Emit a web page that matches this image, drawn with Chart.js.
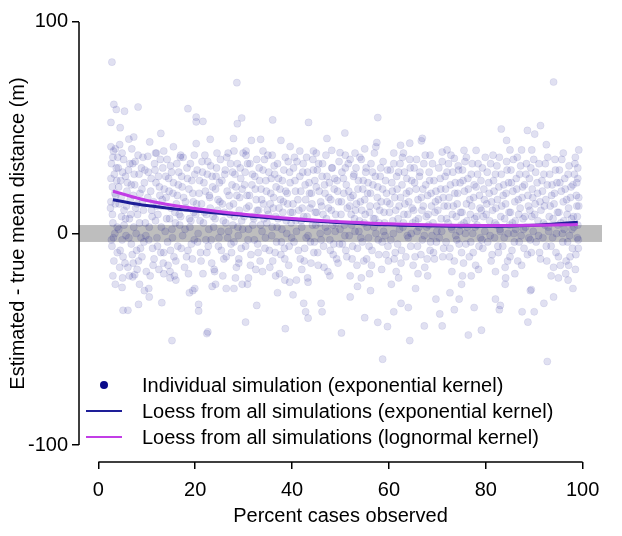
<!DOCTYPE html>
<html>
<head>
<meta charset="utf-8">
<script src="https://cdn.jsdelivr.net/npm/chart.js@4.4.1/dist/chart.umd.min.js"></script>
<style>
  body { margin: 0; background: #fff; }
  canvas { display: block; }
</style>
</head>
<body>
<canvas id="myChart" width="622" height="536"></canvas>
<script>
// individual simulations, grouped by percent observed (x, y)
const pts00 = [[2.8,81],[3.2,61],[3.7,58.6],[5.4,57.8],[8.2,59.8],[2.6,52.5],[4.5,50],[6.3,44.6],[7.3,45.6],[2.6,41],[3.5,40],[4.4,42],[3.1,39],[10.2,36.5],[10.6,43.3],
  [2.7,33],[3.3,28],[2.9,22],[3.6,18],[2.5,12],[3.0,5],[3.4,0],[2.8,-6],[3.9,-9],[3.2,-13],[4.1,31],[4.6,25],[4.3,14],[4.8,8],[4.2,2],[4.9,-3],[5.2,35],[5.6,27],[5.9,20],[5.3,11],[5.7,-1],[5.1,-11],[6.2,30],[6.6,16],[6.4,7],[6.8,-5],[6.1,-16],[7.1,33],[7.5,23],[7.7,12],[7.3,3],[7.9,-8],[8.4,28],[8.6,19],[8.1,9],[8.8,-2],[8.3,-13],[9.2,36],[9.5,24],[9.1,15],[9.7,5],[9.4,-4],[9.9,-18],[2.6,15],[3.8,25],[4.0,36],[6.9,40],[8.9,31],[5.0,-21],[7.2,-14],
  [2.6,26],[2.9,9],[3.1,-2],[3.4,19],[3.7,31],[3.9,3],[4.2,22],[4.5,-8],[4.7,17],[5.0,29],[5.3,4],[5.5,-14],[5.8,13],[6.0,24],[6.3,-2],[6.5,33],[6.7,9],[7.0,-10],[7.2,18],[7.4,28],[7.8,0],[8.0,14],[8.2,37],[8.5,5],[8.7,-7],[9.0,21],[9.3,11],[9.6,30],[9.8,-1],[3.0,36],[4.4,-16],[6.4,-20],[8.0,-17],[2.7,-3],[5.6,7],[7.6,34],[9.0,-11],[3.5,14],[4.9,38],[6.8,23],
  [5.1,-36.3],[6.1,-36.3],[8.3,-33.5],[4.9,-25.5],[8.5,-24],[9.5,-27],[10.4,-26],[7.5,-19.5],[7.1,-20.5],[3.0,-20],[3.5,-24]];
const pts10 = [[12.9,47.3],[18.5,59],[17,37],[19.8,37],[15.5,41],[13.5,39],
  [10.3,29],[10.8,20],[11.0,11],[10.5,3],[11.2,-7],[11.6,33],[11.9,24],[11.4,15],[11.8,6],[12.1,-2],[12.4,27],[12.7,18],[12.3,9],[12.9,-9],[13.3,31],[13.6,21],[13.1,13],[13.8,1],[13.4,-14],[14.2,35],[14.5,26],[14.0,17],[14.7,7],[14.3,-4],[15.1,29],[15.4,19],[15.8,10],[15.2,2],[15.6,-11],[16.2,33],[16.5,23],[16.1,14],[16.8,4],[16.4,-6],[17.2,27],[17.6,17],[17.0,8],[17.4,-1],[17.8,-16],[18.3,31],[18.7,21],[18.1,12],[18.9,3],[18.5,-8],[19.3,25],[19.6,15],[19.1,6],[19.8,-3],[19.4,-12],[12.0,38],[16.9,36],[14.8,-18],[11.3,-15],
  [10.2,17],[10.4,-3],[10.9,26],[11.1,8],[11.5,-12],[11.7,30],[12.0,13],[12.2,-6],[12.6,22],[12.8,35],[13.0,3],[13.2,16],[13.5,-9],[13.9,27],[14.1,7],[14.4,-15],[14.6,20],[14.9,32],[15.0,12],[15.3,-2],[15.5,24],[15.9,5],[16.0,-13],[16.3,18],[16.6,29],[16.7,9],[17.1,-7],[17.3,22],[17.5,36],[17.9,2],[18.0,15],[18.2,-11],[18.4,26],[18.8,7],[19.0,33],[19.2,-5],[19.5,19],[19.7,10],[19.9,28],[10.7,-20],[12.5,-17],[16.0,-22],[18.6,-19],[11.8,38],[14.9,-8],
  [13.1,-32.7],[15.2,-50.6],[13.5,-19],[14.8,-21],[15.7,-20],[19.5,-27],[18.8,-28],[10.5,-30]];
const pts20 = [[20.2,55],[20.2,52.8],[21.6,53],[28.6,71.3],[28.7,51.9],[29.6,54.6],[27.9,44.9],[23.1,44.5],[20.2,42.5],[24.5,38],[28,39],[30.5,39],
  [20.4,30],[20.8,19],[20.1,9],[20.6,0],[21.1,-9],[21.4,34],[21.8,24],[21.3,14],[21.7,5],[22.2,-3],[22.5,28],[22.9,18],[22.3,9],[22.7,-6],[23.2,32],[23.6,22],[23.1,12],[23.8,3],[23.4,-14],[24.3,27],[24.7,16],[24.1,7],[24.9,-2],[25.2,35],[25.5,25],[25.1,15],[25.8,6],[25.4,-8],[26.2,30],[26.6,20],[26.0,10],[26.9,1],[26.4,-11],[27.3,33],[27.6,23],[27.1,13],[27.8,4],[27.4,-5],[28.2,28],[28.6,18],[28.1,8],[28.9,-1],[28.5,-16],[29.3,31],[29.7,21],[29.1,11],[29.8,2],[29.5,-7],[22.0,37],[26.8,38],[24.0,-18],[29.0,-12],
  [20.3,14],[20.5,-4],[20.9,25],[21.0,6],[21.2,-13],[21.5,29],[21.9,10],[22.1,20],[22.4,-9],[22.6,34],[22.8,2],[23.0,17],[23.3,-3],[23.5,27],[23.7,8],[23.9,-17],[24.2,21],[24.4,31],[24.6,11],[24.8,-6],[25.0,24],[25.3,1],[25.6,14],[25.9,-12],[26.1,28],[26.3,5],[26.5,36],[26.7,-2],[27.0,18],[27.2,9],[27.5,-9],[27.7,29],[27.9,14],[28.0,-4],[28.4,22],[28.7,33],[28.8,3],[29.0,-14],[29.2,17],[29.4,26],[29.6,6],[29.9,38],[21.6,-19],[25.7,-20],[28.3,-21],
  [20.7,-33.5],[20.7,-36.6],[19.9,-26],[22.4,-47.3],[22.6,-46.5],[23.5,-25],[24.2,-24],[26.4,-26],[28,-26]];
const pts30 = [[31.6,44],[33.5,44.5],[36,53.7],[37.7,44],[39.6,41.1],[34,39],
  [30.3,29],[30.7,18],[30.1,8],[30.9,-3],[31.3,33],[31.7,23],[31.1,13],[31.9,4],[31.5,-10],[32.3,27],[32.6,16],[32.1,7],[32.9,-5],[33.2,31],[33.6,21],[33.1,11],[33.8,1],[33.4,-13],[34.3,35],[34.6,25],[34.1,14],[34.8,5],[34.4,-7],[35.2,29],[35.6,19],[35.1,9],[35.8,-1],[35.4,-16],[36.3,32],[36.7,22],[36.1,12],[36.9,3],[36.5,-9],[37.2,26],[37.6,16],[37.1,7],[37.8,-4],[38.3,30],[38.7,20],[38.1,10],[38.9,0],[38.5,-12],[39.2,34],[39.6,24],[39.1,14],[39.8,5],[39.4,-6],[30.5,37],[35.9,37],[37.4,-19],[32.5,-17],
  [30.2,23],[30.4,-6],[30.6,12],[30.8,33],[31.0,2],[31.2,18],[31.4,-15],[31.8,28],[32.0,8],[32.2,-3],[32.4,21],[32.7,35],[32.8,11],[33.0,-9],[33.3,25],[33.5,4],[33.7,16],[33.9,-18],[34.0,30],[34.2,7],[34.5,-2],[34.7,20],[34.9,11],[35.0,37],[35.3,-8],[35.5,14],[35.7,26],[35.9,3],[36.0,-13],[36.2,17],[36.4,28],[36.6,8],[36.8,-4],[37.0,33],[37.3,12],[37.5,21],[37.7,-10],[37.9,2],[38.0,25],[38.2,15],[38.4,-7],[38.6,36],[38.8,6],[39.0,19],[39.3,-15],[39.5,29],[39.7,10],[39.9,-2],[31.0,-21],[36.6,-20],
  [29.7,-24],[30.8,-24],[30.4,-41.9],[32.7,-34],[38.6,-45],[37,-28],[38.5,-22],[39.5,-23]];
const pts40 = [[43.4,52.5],[47.2,44.9],[41.6,39],[44.4,39],[48.2,39.3],[49.9,38.2],
  [40.3,31],[40.7,20],[40.1,10],[40.9,1],[41.3,-8],[41.6,27],[41.2,16],[41.9,6],[42.3,33],[42.7,23],[42.1,12],[42.9,-2],[42.5,-13],[43.2,29],[43.6,19],[43.1,8],[43.8,-4],[44.3,35],[44.7,25],[44.1,14],[44.9,4],[44.5,-9],[45.2,30],[45.6,20],[45.1,10],[45.8,0],[45.4,-15],[46.3,33],[46.7,23],[46.1,13],[46.9,3],[46.5,-6],[47.2,27],[47.6,17],[47.1,7],[47.8,-3],[47.4,-18],[48.3,31],[48.7,21],[48.1,11],[48.9,1],[48.5,-10],[49.3,25],[49.6,15],[49.1,5],[49.8,-5],[40.5,36],[45.0,38],[42.0,-17],[49.5,-14],
  [40.2,14],[40.4,-4],[40.6,25],[40.8,6],[41.0,34],[41.4,11],[41.7,-12],[41.8,20],[42.0,3],[42.2,29],[42.4,8],[42.6,-7],[42.8,16],[43.0,36],[43.3,-1],[43.5,24],[43.7,12],[43.9,-14],[44.0,19],[44.2,4],[44.4,30],[44.6,-4],[44.8,10],[45.0,22],[45.3,-9],[45.5,33],[45.7,5],[45.9,15],[46.0,-3],[46.2,27],[46.4,9],[46.6,-16],[46.8,19],[47.0,37],[47.3,1],[47.5,12],[47.7,24],[47.9,-8],[48.0,16],[48.2,31],[48.4,4],[48.6,-5],[48.8,26],[49.0,9],[49.2,-12],[49.4,20],[49.7,34],[49.9,2],[43.2,-21],[47.8,-20],
  [40.2,-29],[42.4,-33],[43.3,-40],[42.8,-37],[43.3,-23],[46,-33],[46.2,-37],[40.9,-22]];
const pts50 = [[50.9,47.5],[57.7,54.8],[57.5,43],[57.3,41],[55,40],[53,38],
  [50.3,29],[50.7,19],[50.1,9],[50.9,-1],[51.3,-11],[51.6,33],[51.2,23],[51.9,13],[52.3,4],[52.7,27],[52.1,17],[52.9,7],[52.5,-6],[53.2,31],[53.6,21],[53.1,11],[53.8,1],[53.4,-15],[54.3,35],[54.7,25],[54.1,15],[54.9,5],[54.5,-4],[55.2,29],[55.6,19],[55.1,9],[55.8,-2],[55.4,-12],[56.3,33],[56.7,23],[56.1,13],[56.9,3],[56.5,-8],[57.2,27],[57.6,17],[57.1,7],[57.8,-3],[58.3,31],[58.7,21],[58.1,11],[58.9,1],[58.5,-17],[59.3,25],[59.6,15],[59.1,5],[59.8,-6],[59.4,-10],[51.0,37],[56.0,-19],[52.0,-20],
  [50.2,15],[50.4,-5],[50.6,26],[50.8,4],[51.0,31],[51.1,-8],[51.4,12],[51.7,20],[51.8,-1],[52.0,35],[52.2,9],[52.4,-12],[52.6,18],[52.8,28],[53.0,1],[53.3,14],[53.5,-7],[53.7,25],[53.9,6],[54.0,36],[54.2,-2],[54.4,11],[54.6,21],[54.8,-13],[55.0,16],[55.3,31],[55.5,3],[55.7,24],[55.9,-6],[56.0,10],[56.2,19],[56.4,-15],[56.6,29],[56.8,7],[57.0,38],[57.3,0],[57.5,13],[57.7,22],[57.9,-10],[58.0,5],[58.2,27],[58.4,15],[58.6,-4],[58.8,34],[59.0,10],[59.2,-1],[59.5,19],[59.7,30],[59.9,-13],[54.3,-21],
  [50.2,-47],[52,-30],[53.5,-25],[55,-39.8],[57.7,-42],[59.7,-44],[58.7,-59.4],[56.2,-27]];
const pts60 = [[62.4,41.7],[64.3,42.7],[66.9,45],[66.7,43.8],[61,38],[68.5,37],
  [60.3,30],[60.7,20],[60.1,10],[60.9,0],[61.3,-9],[61.6,27],[61.2,17],[61.9,7],[62.3,33],[62.7,23],[62.1,13],[62.9,3],[62.5,-14],[63.2,29],[63.6,19],[63.1,9],[63.8,-1],[64.3,35],[64.7,25],[64.1,15],[64.9,5],[64.5,-6],[65.2,31],[65.6,21],[65.1,11],[65.8,1],[65.4,-11],[66.3,27],[66.7,17],[66.1,7],[66.9,-3],[67.2,33],[67.6,23],[67.1,13],[67.8,3],[67.4,-16],[68.3,29],[68.7,19],[68.1,9],[68.9,-1],[68.5,-8],[69.3,25],[69.6,15],[69.1,5],[69.8,-4],[69.4,-12],[63.0,38],[66.0,-19],[61.5,-18],
  [60.2,14],[60.4,-3],[60.6,24],[60.8,6],[61.0,33],[61.1,-12],[61.4,11],[61.7,21],[61.8,-5],[62.0,29],[62.2,2],[62.4,17],[62.6,-8],[62.8,36],[63.0,5],[63.3,14],[63.5,-11],[63.7,26],[63.9,9],[64.0,-2],[64.2,20],[64.4,31],[64.6,0],[64.8,12],[65.0,-15],[65.3,24],[65.5,6],[65.7,35],[65.9,-6],[66.0,16],[66.2,3],[66.4,29],[66.6,-10],[66.8,11],[67.0,21],[67.3,-1],[67.5,37],[67.7,8],[67.9,-12],[68.0,18],[68.2,4],[68.4,25],[68.6,-4],[68.8,13],[69.0,33],[69.2,-9],[69.5,10],[69.7,20],[69.9,1],[62.0,-21],[68.0,-20],
  [61,-37],[62.5,-33],[64,-35],[64.3,-50.6],[67.3,-43.7],[69.7,-31],[60.5,-24],[65.5,-26]];
const pts70 = [[71,38.5],[72,39.5],[75.5,39.3],[78,39.3],[76,36],[73.5,35.5],
  [70.3,31],[70.7,21],[70.1,11],[70.9,1],[71.3,-7],[71.6,27],[71.2,17],[71.9,7],[72.3,33],[72.7,23],[72.1,13],[72.9,3],[72.5,-11],[73.2,29],[73.6,19],[73.1,9],[73.8,-1],[74.3,32],[74.7,24],[74.1,14],[74.9,4],[74.5,-5],[75.2,30],[75.6,20],[75.1,10],[75.8,0],[75.4,-14],[76.3,26],[76.7,16],[76.1,6],[76.9,-4],[77.2,33],[77.6,23],[77.1,13],[77.8,3],[77.4,-9],[78.3,28],[78.7,18],[78.1,8],[78.9,-2],[78.5,-17],[79.3,31],[79.6,21],[79.1,11],[79.8,1],[79.4,-7],[73.0,-18],[77.0,-20],
  [70.2,16],[70.4,-2],[70.6,26],[70.8,7],[71.0,34],[71.1,-11],[71.4,13],[71.7,21],[71.8,-4],[72.0,29],[72.2,5],[72.4,17],[72.6,-7],[72.8,37],[73.0,2],[73.3,13],[73.5,-13],[73.7,24],[73.9,8],[74.0,-3],[74.2,19],[74.4,30],[74.6,1],[74.8,10],[75.0,-9],[75.3,25],[75.5,5],[75.7,34],[75.9,-5],[76.0,14],[76.2,3],[76.4,21],[76.6,-11],[76.8,9],[77.0,28],[77.3,0],[77.5,17],[77.7,7],[77.9,-15],[78.0,22],[78.2,4],[78.4,33],[78.6,-6],[78.8,12],[79.0,25],[79.2,-3],[79.5,8],[79.7,16],[79.9,36],[75.2,-20],
  [70.5,-38],[71,-43.7],[72.6,-28],[73.5,-36],[74.5,-31],[76.4,-48],[79.1,-45.7],[77.6,-35],[75,-24]];
const pts80 = [[83.2,49.4],[84.3,44],[88.6,48.7],[85,39.5],[87.4,39.5],[89.5,39.5],[81.5,37],[86.5,36],
  [80.3,29],[80.7,19],[80.1,9],[80.9,-1],[81.3,-10],[81.6,25],[81.2,15],[81.9,5],[82.3,32],[82.7,22],[82.1,12],[82.9,2],[82.5,-6],[83.2,28],[83.6,18],[83.1,8],[83.8,-2],[84.3,34],[84.7,24],[84.1,14],[84.9,4],[84.5,-13],[85.2,30],[85.6,20],[85.1,10],[85.8,0],[85.4,-8],[86.3,26],[86.7,16],[86.1,6],[86.9,-4],[87.2,32],[87.6,22],[87.1,12],[87.8,2],[87.4,-15],[88.3,28],[88.7,18],[88.1,8],[88.9,-2],[89.3,31],[89.6,21],[89.1,11],[89.8,1],[89.4,-9],[82.0,-18],[86.0,-19],
  [80.2,14],[80.4,-4],[80.6,24],[80.8,6],[81.0,33],[81.1,-13],[81.4,11],[81.7,20],[81.8,-2],[82.0,28],[82.2,4],[82.4,16],[82.6,-9],[82.8,36],[83.0,1],[83.3,13],[83.5,-6],[83.7,23],[83.9,7],[84.0,-16],[84.2,19],[84.4,30],[84.6,0],[84.8,10],[85.0,-11],[85.3,24],[85.5,5],[85.7,35],[85.9,-4],[86.0,15],[86.2,2],[86.4,21],[86.6,-13],[86.8,9],[87.0,28],[87.3,-1],[87.5,17],[87.7,7],[87.9,-7],[88.0,23],[88.2,3],[88.4,33],[88.6,-10],[88.8,13],[89.0,26],[89.2,-3],[89.5,8],[89.7,17],[89.9,35],[84.1,-21],
  [82,-31],[83,-34],[82.8,-36],[88.7,-41.9],[87.5,-37],[89.2,-27],[89.4,-26.5],[84,-24]];
const pts90 = [[90.1,47],[91.3,51],[94,71.6],[99.2,39.5],[92.5,42],[96,38],
  [90.3,29],[90.7,19],[90.1,9],[90.9,-1],[91.3,-12],[91.6,25],[91.2,15],[91.9,5],[92.3,33],[92.7,23],[92.1,13],[92.9,3],[92.5,-6],[93.2,28],[93.6,18],[93.1,8],[93.8,-2],[94.3,35],[94.7,24],[94.1,14],[94.9,4],[94.5,-9],[95.2,30],[95.6,20],[95.1,10],[95.8,0],[95.4,-15],[96.3,26],[96.7,16],[96.1,6],[96.9,-4],[97.2,32],[97.6,22],[97.1,12],[97.8,2],[97.4,-11],[98.3,28],[98.7,18],[98.1,8],[98.9,-2],[98.5,-17],[99.0,31],[98.8,24],[99.2,13],[99.0,4],[99.1,-7],[96.5,-19],[93.5,-20],
  [90.2,14],[90.4,-4],[90.6,24],[90.8,6],[91.0,33],[91.1,-9],[91.4,11],[91.7,20],[91.8,-2],[92.0,28],[92.2,4],[92.4,16],[92.6,-13],[92.8,36],[93.0,1],[93.3,13],[93.5,-6],[93.7,23],[93.9,7],[94.0,-16],[94.2,19],[94.4,30],[94.6,0],[94.8,10],[95.0,-11],[95.3,24],[95.5,5],[95.7,35],[95.9,-4],[96.0,15],[96.2,2],[96.4,21],[96.6,-13],[96.8,9],[97.0,28],[97.3,-1],[97.5,17],[97.7,7],[97.9,-7],[98.0,23],[98.2,3],[98.4,33],[98.6,-10],[98.8,13],[99.0,26],[99.1,-3],[98.9,8],[99.2,17],[98.5,36],[95.0,-21],
  [90,-37],[92,-33],[94,-30],[92.7,-60.5],[98,-26],[97,-22],[97.1,-15]];

// loess curves
const loessX = [3, 10, 20, 30, 40, 50, 60, 70, 80, 90, 99];
const loessExp = [16, 13.2, 10.6, 8.5, 6.6, 5.1, 4.1, 3.5, 3.4, 3.9, 5.3];
const loessLogn = [20, 15.6, 11.8, 9.1, 7.1, 5.6, 4.6, 4.0, 3.8, 3.9, 4.3];

const xTicks = [0, 20, 40, 60, 80, 100];
const yTicks = [-100, 0, 100];
const bandLow = -4, bandHigh = 4;

const labels = [
  "Individual simulation (exponential kernel)",
  "Loess from all simulations (exponential kernel)",
  "Loess from all simulations (lognormal kernel)"
];

const FONT = "'Liberation Sans', Arial, sans-serif";
const dotColor = "#0a0a8a";
const expColor = "#1e1e98";
const lognColor = "#c23de6";

const simPoints = [].concat(pts00, pts10, pts20, pts30, pts40, pts50, pts60, pts70, pts80, pts90)
  .map(p => ({ x: p[0], y: p[1] }));

function toXY(xs, ys) {
  return xs.map((x, i) => ({ x: x, y: ys[i] }));
}

// grey band around zero, drawn under the points
const bandPlugin = {
  id: "band",
  beforeDatasetsDraw(chart) {
    const { ctx, chartArea, scales } = chart;
    const top = scales.y.getPixelForValue(bandHigh);
    const bottom = scales.y.getPixelForValue(bandLow);
    ctx.save();
    ctx.fillStyle = "#bebebe";
    ctx.fillRect(chartArea.left, top, chartArea.right - chartArea.left, bottom - top);
    ctx.restore();
  }
};

// R style axis lines (only between first and last tick) and legend
const axesLegendPlugin = {
  id: "axesLegend",
  afterDraw(chart) {
    const { ctx, chartArea, scales } = chart;
    ctx.save();
    ctx.strokeStyle = "#000";
    ctx.lineWidth = 1.5;
    ctx.beginPath();
    ctx.moveTo(scales.x.getPixelForValue(xTicks[0]), chartArea.bottom);
    ctx.lineTo(scales.x.getPixelForValue(xTicks[xTicks.length - 1]), chartArea.bottom);
    ctx.moveTo(chartArea.left, scales.y.getPixelForValue(yTicks[0]));
    ctx.lineTo(chartArea.left, scales.y.getPixelForValue(yTicks[yTicks.length - 1]));
    ctx.stroke();

    const ds = chart.data.datasets;
    const x0 = chartArea.left + 7;
    const rowY = [385, 411, 437];
    ctx.font = "20px " + FONT;
    ctx.textBaseline = "middle";
    ds.forEach((d, i) => {
      const y = rowY[i];
      if (i === 0) {
        ctx.fillStyle = dotColor;
        ctx.beginPath();
        ctx.arc(x0 + 18, y, 4, 0, Math.PI * 2);
        ctx.fill();
      } else {
        ctx.strokeStyle = d.borderColor;
        ctx.lineWidth = 2;
        ctx.beginPath();
        ctx.moveTo(x0, y);
        ctx.lineTo(x0 + 36, y);
        ctx.stroke();
      }
      ctx.fillStyle = "#000";
      ctx.fillText(d.label, x0 + 56, y + 1);
    });
    ctx.restore();
  }
};

const ctx = document.getElementById("myChart").getContext("2d");
new Chart(ctx, {
  type: "scatter",
  data: {
    datasets: [
      {
        label: labels[0],
        data: simPoints,
        backgroundColor: "rgba(0,0,139,0.12)",
        borderColor: "rgba(0,0,139,0.07)",
        borderWidth: 1,
        pointRadius: 3.6,
        order: 3
      },
      {
        type: "line",
        label: labels[1],
        data: toXY(loessX, loessExp),
        borderColor: expColor,
        borderWidth: 3,
        pointRadius: 0,
        tension: 0.4,
        fill: false,
        order: 2
      },
      {
        type: "line",
        label: labels[2],
        data: toXY(loessX, loessLogn),
        borderColor: lognColor,
        borderWidth: 3,
        pointRadius: 0,
        tension: 0.4,
        fill: false,
        order: 1
      }
    ]
  },
  options: {
    responsive: false,
    animation: false,
    layout: { padding: { top: 5, right: 20, left: 0, bottom: 0 } },
    plugins: {
      legend: { display: false },
      tooltip: { enabled: false }
    },
    scales: {
      x: {
        type: "linear",
        min: -4,
        max: 104,
        afterBuildTicks: (s) => { s.ticks = xTicks.map(v => ({ value: v })); },
        afterFit: (s) => { s.height = 74; s.paddingLeft = 0; s.paddingRight = 0; },
        grid: { drawOnChartArea: false, drawTicks: true, tickLength: 7, color: "#000", lineWidth: 1.5 },
        border: { display: false },
        ticks: { color: "#000", font: { family: FONT, size: 20 }, padding: 9, maxRotation: 0 },
        title: { display: true, text: "Percent cases observed", color: "#000", font: { family: FONT, size: 20 }, padding: { top: 0, bottom: 8 } }
      },
      y: {
        type: "linear",
        min: -108,
        max: 108,
        afterBuildTicks: (s) => { s.ticks = yTicks.map(v => ({ value: v })); },
        afterFit: (s) => { s.width = 79; s.paddingTop = 0; s.paddingBottom = 0; },
        grid: { drawOnChartArea: false, drawTicks: true, tickLength: 7, color: "#000", lineWidth: 1.5 },
        border: { display: false },
        ticks: { color: "#000", font: { family: FONT, size: 20 }, padding: 4 },
        title: { display: true, text: "Estimated - true mean distance (m)", color: "#000", font: { family: FONT, size: 20 }, padding: { top: 6, bottom: 7 } }
      }
    }
  },
  plugins: [bandPlugin, axesLegendPlugin]
});
</script>
</body>
</html>
